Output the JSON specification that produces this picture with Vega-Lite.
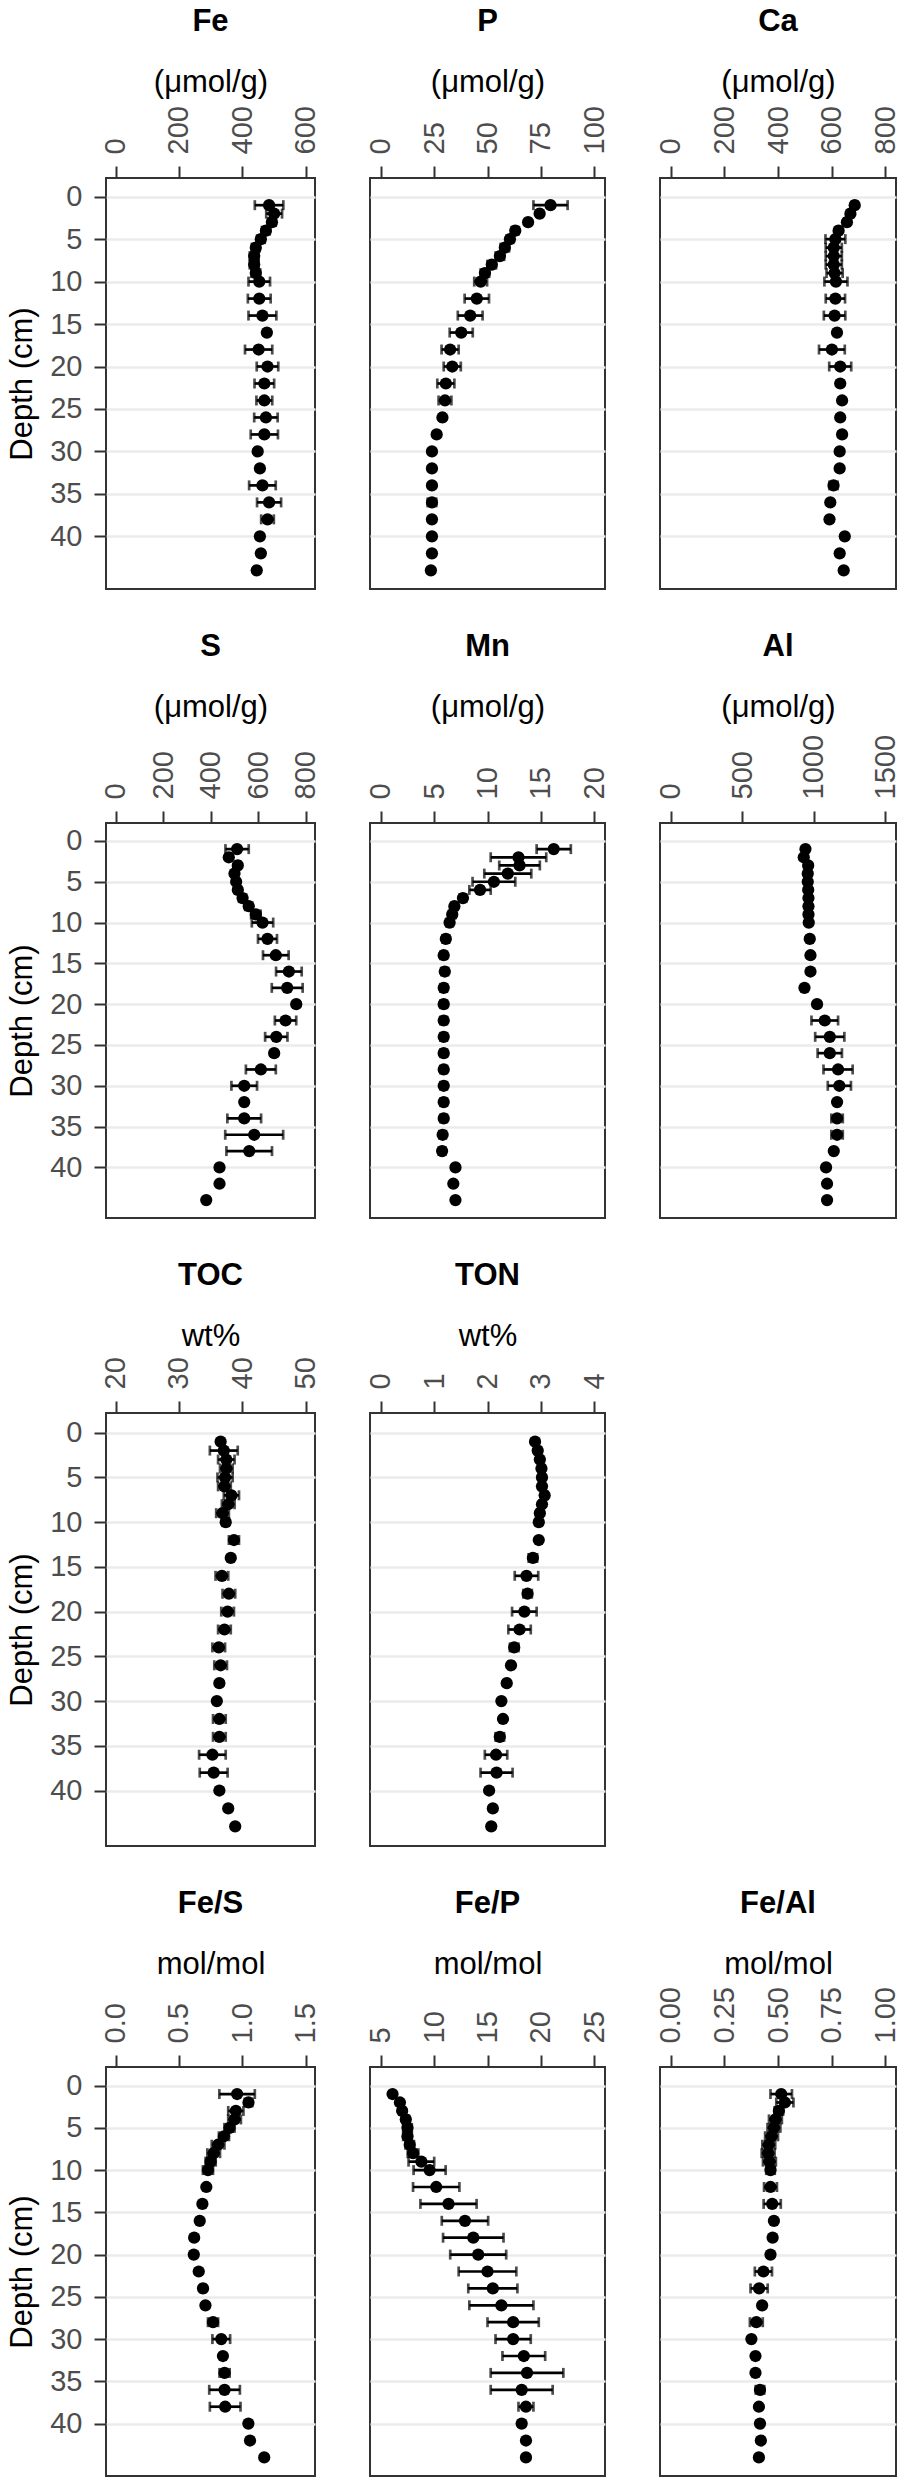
{
  "$schema": "https://vega.github.io/schema/vega-lite/v6.json",
  "background": "white",
  "padding": 5,
  "data": {
    "values": [
      {"p": "Fe", "d": 1, "v": 485, "e": 45}, {"p": "Fe", "d": 2, "v": 501, "e": 25}, {"p": "Fe", "d": 3, "v": 494, "e": 12},
      {"p": "Fe", "d": 4, "v": 475, "e": 12}, {"p": "Fe", "d": 5, "v": 459, "e": 12}, {"p": "Fe", "d": 6, "v": 443, "e": 12},
      {"p": "Fe", "d": 7, "v": 438, "e": 14}, {"p": "Fe", "d": 8, "v": 438, "e": 14}, {"p": "Fe", "d": 9, "v": 443, "e": 14},
      {"p": "Fe", "d": 10, "v": 454, "e": 34}, {"p": "Fe", "d": 12, "v": 454, "e": 36}, {"p": "Fe", "d": 14, "v": 464, "e": 44},
      {"p": "Fe", "d": 16, "v": 478, "e": 0}, {"p": "Fe", "d": 18, "v": 452, "e": 43}, {"p": "Fe", "d": 20, "v": 480, "e": 34},
      {"p": "Fe", "d": 22, "v": 470, "e": 31}, {"p": "Fe", "d": 24, "v": 470, "e": 25}, {"p": "Fe", "d": 26, "v": 475, "e": 37},
      {"p": "Fe", "d": 28, "v": 470, "e": 43}, {"p": "Fe", "d": 30, "v": 449, "e": 0}, {"p": "Fe", "d": 32, "v": 456, "e": 0},
      {"p": "Fe", "d": 34, "v": 464, "e": 42}, {"p": "Fe", "d": 36, "v": 485, "e": 38}, {"p": "Fe", "d": 38, "v": 480, "e": 20},
      {"p": "Fe", "d": 40, "v": 456, "e": 0}, {"p": "Fe", "d": 42, "v": 459, "e": 0}, {"p": "Fe", "d": 44, "v": 446, "e": 0},

      {"p": "P", "d": 1, "v": 79.5, "e": 8}, {"p": "P", "d": 2, "v": 74.4, "e": 1}, {"p": "P", "d": 3, "v": 69, "e": 1},
      {"p": "P", "d": 4, "v": 63, "e": 1.5}, {"p": "P", "d": 5, "v": 60.5, "e": 1.5}, {"p": "P", "d": 6, "v": 58.1, "e": 2},
      {"p": "P", "d": 7, "v": 55.8, "e": 2}, {"p": "P", "d": 8, "v": 52, "e": 2}, {"p": "P", "d": 9, "v": 48.8, "e": 2},
      {"p": "P", "d": 10, "v": 46.8, "e": 3}, {"p": "P", "d": 12, "v": 45, "e": 5.7}, {"p": "P", "d": 14, "v": 41.9, "e": 5.8},
      {"p": "P", "d": 16, "v": 37.7, "e": 5.4}, {"p": "P", "d": 18, "v": 32.5, "e": 4}, {"p": "P", "d": 20, "v": 33.5, "e": 4},
      {"p": "P", "d": 22, "v": 30.5, "e": 4}, {"p": "P", "d": 24, "v": 30.1, "e": 3}, {"p": "P", "d": 26, "v": 28.9, "e": 1},
      {"p": "P", "d": 28, "v": 26.2, "e": 0}, {"p": "P", "d": 30, "v": 24, "e": 0}, {"p": "P", "d": 32, "v": 24, "e": 0},
      {"p": "P", "d": 34, "v": 24, "e": 0}, {"p": "P", "d": 36, "v": 24, "e": 2}, {"p": "P", "d": 38, "v": 24, "e": 0},
      {"p": "P", "d": 40, "v": 24, "e": 0}, {"p": "P", "d": 42, "v": 24, "e": 0}, {"p": "P", "d": 44, "v": 23.5, "e": 0},

      {"p": "Ca", "d": 1, "v": 686, "e": 10}, {"p": "Ca", "d": 2, "v": 670, "e": 10}, {"p": "Ca", "d": 3, "v": 657, "e": 10},
      {"p": "Ca", "d": 4, "v": 626, "e": 10}, {"p": "Ca", "d": 5, "v": 614, "e": 37}, {"p": "Ca", "d": 6, "v": 608, "e": 30},
      {"p": "Ca", "d": 7, "v": 608, "e": 30}, {"p": "Ca", "d": 8, "v": 608, "e": 30}, {"p": "Ca", "d": 9, "v": 611, "e": 30},
      {"p": "Ca", "d": 10, "v": 616, "e": 43}, {"p": "Ca", "d": 12, "v": 614, "e": 36}, {"p": "Ca", "d": 14, "v": 611, "e": 40},
      {"p": "Ca", "d": 16, "v": 620, "e": 0}, {"p": "Ca", "d": 18, "v": 601, "e": 48}, {"p": "Ca", "d": 20, "v": 632, "e": 41},
      {"p": "Ca", "d": 22, "v": 632, "e": 0}, {"p": "Ca", "d": 24, "v": 639, "e": 0}, {"p": "Ca", "d": 26, "v": 632, "e": 0},
      {"p": "Ca", "d": 28, "v": 639, "e": 0}, {"p": "Ca", "d": 30, "v": 630, "e": 0}, {"p": "Ca", "d": 32, "v": 630, "e": 0},
      {"p": "Ca", "d": 34, "v": 607, "e": 15}, {"p": "Ca", "d": 36, "v": 595, "e": 0}, {"p": "Ca", "d": 38, "v": 592, "e": 0},
      {"p": "Ca", "d": 40, "v": 649, "e": 0}, {"p": "Ca", "d": 42, "v": 630, "e": 0}, {"p": "Ca", "d": 44, "v": 645, "e": 0},

      {"p": "S", "d": 1, "v": 512, "e": 49}, {"p": "S", "d": 2, "v": 477, "e": 10}, {"p": "S", "d": 3, "v": 515, "e": 10},
      {"p": "S", "d": 4, "v": 501, "e": 10}, {"p": "S", "d": 5, "v": 508, "e": 10}, {"p": "S", "d": 6, "v": 515, "e": 10},
      {"p": "S", "d": 7, "v": 535, "e": 15}, {"p": "S", "d": 8, "v": 561, "e": 15}, {"p": "S", "d": 9, "v": 591, "e": 20},
      {"p": "S", "d": 10, "v": 619, "e": 45}, {"p": "S", "d": 12, "v": 640, "e": 40}, {"p": "S", "d": 14, "v": 675, "e": 54},
      {"p": "S", "d": 16, "v": 730, "e": 54}, {"p": "S", "d": 18, "v": 723, "e": 65}, {"p": "S", "d": 20, "v": 761, "e": 0},
      {"p": "S", "d": 22, "v": 716, "e": 45}, {"p": "S", "d": 24, "v": 677, "e": 47}, {"p": "S", "d": 26, "v": 668, "e": 0},
      {"p": "S", "d": 28, "v": 612, "e": 63}, {"p": "S", "d": 30, "v": 542, "e": 54}, {"p": "S", "d": 32, "v": 542, "e": 0},
      {"p": "S", "d": 34, "v": 542, "e": 71}, {"p": "S", "d": 36, "v": 584, "e": 122}, {"p": "S", "d": 38, "v": 563, "e": 96},
      {"p": "S", "d": 40, "v": 438, "e": 0}, {"p": "S", "d": 42, "v": 438, "e": 0}, {"p": "S", "d": 44, "v": 382, "e": 0},

      {"p": "Mn", "d": 1, "v": 16.2, "e": 1.6}, {"p": "Mn", "d": 2, "v": 12.9, "e": 2.6}, {"p": "Mn", "d": 3, "v": 13.0, "e": 1.9},
      {"p": "Mn", "d": 4, "v": 11.9, "e": 2.2}, {"p": "Mn", "d": 5, "v": 10.6, "e": 2.0}, {"p": "Mn", "d": 6, "v": 9.3, "e": 1.0},
      {"p": "Mn", "d": 7, "v": 7.7, "e": 0.3}, {"p": "Mn", "d": 8, "v": 6.9, "e": 0.3}, {"p": "Mn", "d": 9, "v": 6.7, "e": 0.3},
      {"p": "Mn", "d": 10, "v": 6.45, "e": 0.3}, {"p": "Mn", "d": 12, "v": 6.1, "e": 0.3}, {"p": "Mn", "d": 14, "v": 5.9, "e": 0.3},
      {"p": "Mn", "d": 16, "v": 6.0, "e": 0.3}, {"p": "Mn", "d": 18, "v": 5.9, "e": 0.3}, {"p": "Mn", "d": 20, "v": 5.9, "e": 0.3},
      {"p": "Mn", "d": 22, "v": 5.9, "e": 0.3}, {"p": "Mn", "d": 24, "v": 5.9, "e": 0.3}, {"p": "Mn", "d": 26, "v": 5.9, "e": 0.3},
      {"p": "Mn", "d": 28, "v": 5.9, "e": 0.3}, {"p": "Mn", "d": 30, "v": 5.9, "e": 0.3}, {"p": "Mn", "d": 32, "v": 5.9, "e": 0.3},
      {"p": "Mn", "d": 34, "v": 5.9, "e": 0.3}, {"p": "Mn", "d": 36, "v": 5.8, "e": 0.3}, {"p": "Mn", "d": 38, "v": 5.75, "e": 0.3},
      {"p": "Mn", "d": 40, "v": 7.0, "e": 0}, {"p": "Mn", "d": 42, "v": 6.8, "e": 0}, {"p": "Mn", "d": 44, "v": 7.0, "e": 0},

      {"p": "Al", "d": 1, "v": 942, "e": 0}, {"p": "Al", "d": 2, "v": 930, "e": 0}, {"p": "Al", "d": 3, "v": 961, "e": 0},
      {"p": "Al", "d": 4, "v": 958, "e": 0}, {"p": "Al", "d": 5, "v": 958, "e": 0}, {"p": "Al", "d": 6, "v": 961, "e": 0},
      {"p": "Al", "d": 7, "v": 963, "e": 0}, {"p": "Al", "d": 8, "v": 963, "e": 0}, {"p": "Al", "d": 9, "v": 963, "e": 0},
      {"p": "Al", "d": 10, "v": 965, "e": 0}, {"p": "Al", "d": 12, "v": 972, "e": 0}, {"p": "Al", "d": 14, "v": 977, "e": 0},
      {"p": "Al", "d": 16, "v": 977, "e": 0}, {"p": "Al", "d": 18, "v": 935, "e": 0}, {"p": "Al", "d": 20, "v": 1023, "e": 0},
      {"p": "Al", "d": 22, "v": 1077, "e": 93}, {"p": "Al", "d": 24, "v": 1112, "e": 102}, {"p": "Al", "d": 26, "v": 1112, "e": 85},
      {"p": "Al", "d": 28, "v": 1170, "e": 102}, {"p": "Al", "d": 30, "v": 1179, "e": 81}, {"p": "Al", "d": 32, "v": 1163, "e": 0},
      {"p": "Al", "d": 34, "v": 1163, "e": 40}, {"p": "Al", "d": 36, "v": 1163, "e": 40}, {"p": "Al", "d": 38, "v": 1140, "e": 0},
      {"p": "Al", "d": 40, "v": 1086, "e": 0}, {"p": "Al", "d": 42, "v": 1093, "e": 0}, {"p": "Al", "d": 44, "v": 1093, "e": 0},

      {"p": "TOC", "d": 1, "v": 36.6, "e": 0}, {"p": "TOC", "d": 2, "v": 37.1, "e": 2.2}, {"p": "TOC", "d": 3, "v": 37.5, "e": 1.3},
      {"p": "TOC", "d": 4, "v": 37.5, "e": 1}, {"p": "TOC", "d": 5, "v": 37.3, "e": 1.2}, {"p": "TOC", "d": 6, "v": 37.2, "e": 1},
      {"p": "TOC", "d": 7, "v": 38.3, "e": 1.2}, {"p": "TOC", "d": 8, "v": 37.8, "e": 1}, {"p": "TOC", "d": 9, "v": 36.9, "e": 1},
      {"p": "TOC", "d": 10, "v": 37.4, "e": 0.5}, {"p": "TOC", "d": 12, "v": 38.7, "e": 0.8}, {"p": "TOC", "d": 14, "v": 38.2, "e": 0},
      {"p": "TOC", "d": 16, "v": 36.8, "e": 1}, {"p": "TOC", "d": 18, "v": 37.9, "e": 1}, {"p": "TOC", "d": 20, "v": 37.7, "e": 1},
      {"p": "TOC", "d": 22, "v": 37.2, "e": 1}, {"p": "TOC", "d": 24, "v": 36.3, "e": 1}, {"p": "TOC", "d": 26, "v": 36.6, "e": 1},
      {"p": "TOC", "d": 28, "v": 36.4, "e": 0}, {"p": "TOC", "d": 30, "v": 36.0, "e": 0}, {"p": "TOC", "d": 32, "v": 36.4, "e": 1},
      {"p": "TOC", "d": 34, "v": 36.4, "e": 1}, {"p": "TOC", "d": 36, "v": 35.3, "e": 2.1}, {"p": "TOC", "d": 38, "v": 35.5, "e": 2.2},
      {"p": "TOC", "d": 40, "v": 36.4, "e": 0}, {"p": "TOC", "d": 42, "v": 37.8, "e": 0}, {"p": "TOC", "d": 44, "v": 38.9, "e": 0},

      {"p": "TON", "d": 1, "v": 2.89, "e": 0}, {"p": "TON", "d": 2, "v": 2.94, "e": 0.05}, {"p": "TON", "d": 3, "v": 2.98, "e": 0.05},
      {"p": "TON", "d": 4, "v": 3.01, "e": 0.05}, {"p": "TON", "d": 5, "v": 3.02, "e": 0.05}, {"p": "TON", "d": 6, "v": 3.02, "e": 0.05},
      {"p": "TON", "d": 7, "v": 3.07, "e": 0.05}, {"p": "TON", "d": 8, "v": 3.02, "e": 0.05}, {"p": "TON", "d": 9, "v": 2.98, "e": 0.05},
      {"p": "TON", "d": 10, "v": 2.96, "e": 0.05}, {"p": "TON", "d": 12, "v": 2.96, "e": 0}, {"p": "TON", "d": 14, "v": 2.85, "e": 0.08},
      {"p": "TON", "d": 16, "v": 2.73, "e": 0.22}, {"p": "TON", "d": 18, "v": 2.75, "e": 0.08}, {"p": "TON", "d": 20, "v": 2.69, "e": 0.23},
      {"p": "TON", "d": 22, "v": 2.6, "e": 0.21}, {"p": "TON", "d": 24, "v": 2.5, "e": 0.08}, {"p": "TON", "d": 26, "v": 2.44, "e": 0.05},
      {"p": "TON", "d": 28, "v": 2.36, "e": 0}, {"p": "TON", "d": 30, "v": 2.26, "e": 0}, {"p": "TON", "d": 32, "v": 2.29, "e": 0},
      {"p": "TON", "d": 34, "v": 2.23, "e": 0.08}, {"p": "TON", "d": 36, "v": 2.16, "e": 0.21}, {"p": "TON", "d": 38, "v": 2.17, "e": 0.3},
      {"p": "TON", "d": 40, "v": 2.03, "e": 0}, {"p": "TON", "d": 42, "v": 2.1, "e": 0}, {"p": "TON", "d": 44, "v": 2.07, "e": 0},

      {"p": "Fe/S", "d": 1, "v": 0.96, "e": 0.14}, {"p": "Fe/S", "d": 2, "v": 1.05, "e": 0.03}, {"p": "Fe/S", "d": 3, "v": 0.95, "e": 0.06},
      {"p": "Fe/S", "d": 4, "v": 0.94, "e": 0.05}, {"p": "Fe/S", "d": 5, "v": 0.9, "e": 0.04}, {"p": "Fe/S", "d": 6, "v": 0.856, "e": 0.04},
      {"p": "Fe/S", "d": 7, "v": 0.81, "e": 0.05}, {"p": "Fe/S", "d": 8, "v": 0.775, "e": 0.05}, {"p": "Fe/S", "d": 9, "v": 0.751, "e": 0.04},
      {"p": "Fe/S", "d": 10, "v": 0.73, "e": 0.04}, {"p": "Fe/S", "d": 12, "v": 0.717, "e": 0}, {"p": "Fe/S", "d": 14, "v": 0.686, "e": 0},
      {"p": "Fe/S", "d": 16, "v": 0.665, "e": 0}, {"p": "Fe/S", "d": 18, "v": 0.621, "e": 0}, {"p": "Fe/S", "d": 20, "v": 0.618, "e": 0},
      {"p": "Fe/S", "d": 22, "v": 0.657, "e": 0}, {"p": "Fe/S", "d": 24, "v": 0.691, "e": 0.02}, {"p": "Fe/S", "d": 26, "v": 0.71, "e": 0},
      {"p": "Fe/S", "d": 28, "v": 0.77, "e": 0.04}, {"p": "Fe/S", "d": 30, "v": 0.835, "e": 0.07}, {"p": "Fe/S", "d": 32, "v": 0.848, "e": 0},
      {"p": "Fe/S", "d": 34, "v": 0.861, "e": 0.04}, {"p": "Fe/S", "d": 36, "v": 0.861, "e": 0.121}, {"p": "Fe/S", "d": 38, "v": 0.866, "e": 0.121},
      {"p": "Fe/S", "d": 40, "v": 1.049, "e": 0}, {"p": "Fe/S", "d": 42, "v": 1.062, "e": 0}, {"p": "Fe/S", "d": 44, "v": 1.174, "e": 0},

      {"p": "Fe/P", "d": 1, "v": 6.11, "e": 0}, {"p": "Fe/P", "d": 2, "v": 6.8, "e": 0}, {"p": "Fe/P", "d": 3, "v": 7.01, "e": 0.2},
      {"p": "Fe/P", "d": 4, "v": 7.35, "e": 0.3}, {"p": "Fe/P", "d": 5, "v": 7.51, "e": 0.4}, {"p": "Fe/P", "d": 6, "v": 7.51, "e": 0.4},
      {"p": "Fe/P", "d": 7, "v": 7.72, "e": 0.4}, {"p": "Fe/P", "d": 8, "v": 8.03, "e": 0.5}, {"p": "Fe/P", "d": 9, "v": 8.81, "e": 1.2},
      {"p": "Fe/P", "d": 10, "v": 9.58, "e": 1.5}, {"p": "Fe/P", "d": 12, "v": 10.2, "e": 2.17}, {"p": "Fe/P", "d": 14, "v": 11.35, "e": 2.63},
      {"p": "Fe/P", "d": 16, "v": 12.89, "e": 2.17}, {"p": "Fe/P", "d": 18, "v": 13.67, "e": 2.83}, {"p": "Fe/P", "d": 20, "v": 14.13, "e": 2.62},
      {"p": "Fe/P", "d": 22, "v": 15.0, "e": 2.7}, {"p": "Fe/P", "d": 24, "v": 15.5, "e": 2.3}, {"p": "Fe/P", "d": 26, "v": 16.3, "e": 3.0},
      {"p": "Fe/P", "d": 28, "v": 17.4, "e": 2.4}, {"p": "Fe/P", "d": 30, "v": 17.4, "e": 1.65}, {"p": "Fe/P", "d": 32, "v": 18.4, "e": 2.0},
      {"p": "Fe/P", "d": 34, "v": 18.7, "e": 3.4}, {"p": "Fe/P", "d": 36, "v": 18.2, "e": 2.9}, {"p": "Fe/P", "d": 38, "v": 18.6, "e": 0.7},
      {"p": "Fe/P", "d": 40, "v": 18.2, "e": 0}, {"p": "Fe/P", "d": 42, "v": 18.6, "e": 0}, {"p": "Fe/P", "d": 44, "v": 18.6, "e": 0},

      {"p": "Fe/Al", "d": 1, "v": 0.515, "e": 0.05}, {"p": "Fe/Al", "d": 2, "v": 0.532, "e": 0.04}, {"p": "Fe/Al", "d": 3, "v": 0.504, "e": 0.02},
      {"p": "Fe/Al", "d": 4, "v": 0.488, "e": 0.03}, {"p": "Fe/Al", "d": 5, "v": 0.481, "e": 0.03}, {"p": "Fe/Al", "d": 6, "v": 0.47, "e": 0.03},
      {"p": "Fe/Al", "d": 7, "v": 0.457, "e": 0.03}, {"p": "Fe/Al", "d": 8, "v": 0.454, "e": 0.03}, {"p": "Fe/Al", "d": 9, "v": 0.46, "e": 0.03},
      {"p": "Fe/Al", "d": 10, "v": 0.465, "e": 0.02}, {"p": "Fe/Al", "d": 12, "v": 0.465, "e": 0.03}, {"p": "Fe/Al", "d": 14, "v": 0.473, "e": 0.04},
      {"p": "Fe/Al", "d": 16, "v": 0.481, "e": 0}, {"p": "Fe/Al", "d": 18, "v": 0.475, "e": 0}, {"p": "Fe/Al", "d": 20, "v": 0.465, "e": 0},
      {"p": "Fe/Al", "d": 22, "v": 0.432, "e": 0.04}, {"p": "Fe/Al", "d": 24, "v": 0.412, "e": 0.04}, {"p": "Fe/Al", "d": 26, "v": 0.426, "e": 0},
      {"p": "Fe/Al", "d": 28, "v": 0.399, "e": 0.03}, {"p": "Fe/Al", "d": 30, "v": 0.376, "e": 0}, {"p": "Fe/Al", "d": 32, "v": 0.395, "e": 0},
      {"p": "Fe/Al", "d": 34, "v": 0.395, "e": 0}, {"p": "Fe/Al", "d": 36, "v": 0.416, "e": 0.02}, {"p": "Fe/Al", "d": 38, "v": 0.411, "e": 0},
      {"p": "Fe/Al", "d": 40, "v": 0.416, "e": 0}, {"p": "Fe/Al", "d": 42, "v": 0.42, "e": 0}, {"p": "Fe/Al", "d": 44, "v": 0.411, "e": 0}
    ]
  },
  "spacing": 40,
  "bounds": "full",
  "vconcat": [
    {
      "hconcat": [
        {
          "width": 209, "height": 411,
          "title": "Fe",
          "transform": [{"filter": "datum.p == 'Fe'"}],
          "encoding": {
            "y": {"field": "d", "type": "quantitative", "scale": {"domain": [-2.2, 46.2], "reverse": true, "nice": false, "zero": false},
                  "axis": {"values": [0, 5, 10, 15, 20, 25, 30, 35, 40], "title": "Depth (cm)", "titleX": -84}},
            "x": {"field": "v", "type": "quantitative", "scale": {"domain": [-30, 630], "nice": false, "zero": false},
                  "axis": {"orient": "top", "values": [0, 200, 400, 600], "format": "d", "title": "(μmol/g)", "titleY": -96}}
          },
          "layer": [
            {"mark": {"type": "errorbar", "ticks": true, "size": 10, "thickness": 2.7, "color": "black"}, "encoding": {"xError": {"field": "e"}}},
            {"mark": {"type": "circle", "size": 150, "color": "black", "opacity": 1}}
          ]
        },
        {
          "width": 235, "height": 411,
          "title": "P",
          "transform": [{"filter": "datum.p == 'P'"}],
          "encoding": {
            "y": {"field": "d", "type": "quantitative", "scale": {"domain": [-2.2, 46.2], "reverse": true, "nice": false, "zero": false},
                  "axis": {"values": [0, 5, 10, 15, 20, 25, 30, 35, 40], "labels": false, "ticks": false, "title": null}},
            "x": {"field": "v", "type": "quantitative", "scale": {"domain": [-5, 105], "nice": false, "zero": false},
                  "axis": {"orient": "top", "values": [0, 25, 50, 75, 100], "format": "d", "title": "(μmol/g)", "titleY": -96}}
          },
          "layer": [
            {"mark": {"type": "errorbar", "ticks": true, "size": 10, "thickness": 2.7, "color": "black"}, "encoding": {"xError": {"field": "e"}}},
            {"mark": {"type": "circle", "size": 150, "color": "black", "opacity": 1}}
          ]
        },
        {
          "width": 236, "height": 411,
          "title": "Ca",
          "transform": [{"filter": "datum.p == 'Ca'"}],
          "encoding": {
            "y": {"field": "d", "type": "quantitative", "scale": {"domain": [-2.2, 46.2], "reverse": true, "nice": false, "zero": false},
                  "axis": {"values": [0, 5, 10, 15, 20, 25, 30, 35, 40], "labels": false, "ticks": false, "title": null}},
            "x": {"field": "v", "type": "quantitative", "scale": {"domain": [-40, 840], "nice": false, "zero": false},
                  "axis": {"orient": "top", "values": [0, 200, 400, 600, 800], "format": "d", "title": "(μmol/g)", "titleY": -96}}
          },
          "layer": [
            {"mark": {"type": "errorbar", "ticks": true, "size": 10, "thickness": 2.7, "color": "black"}, "encoding": {"xError": {"field": "e"}}},
            {"mark": {"type": "circle", "size": 150, "color": "black", "opacity": 1}}
          ]
        }
      ],
      "spacing": 55,
      "bounds": "flush"
    },
    {
      "hconcat": [
        {
          "width": 209, "height": 395,
          "title": "S",
          "transform": [{"filter": "datum.p == 'S'"}],
          "encoding": {
            "y": {"field": "d", "type": "quantitative", "scale": {"domain": [-2.2, 46.2], "reverse": true, "nice": false, "zero": false},
                  "axis": {"values": [0, 5, 10, 15, 20, 25, 30, 35, 40], "title": "Depth (cm)", "titleX": -84}},
            "x": {"field": "v", "type": "quantitative", "scale": {"domain": [-40, 840], "nice": false, "zero": false},
                  "axis": {"orient": "top", "values": [0, 200, 400, 600, 800], "format": "d", "title": "(μmol/g)", "titleY": -116}}
          },
          "layer": [
            {"mark": {"type": "errorbar", "ticks": true, "size": 10, "thickness": 2.7, "color": "black"}, "encoding": {"xError": {"field": "e"}}},
            {"mark": {"type": "circle", "size": 150, "color": "black", "opacity": 1}}
          ]
        },
        {
          "width": 235, "height": 395,
          "title": "Mn",
          "transform": [{"filter": "datum.p == 'Mn'"}],
          "encoding": {
            "y": {"field": "d", "type": "quantitative", "scale": {"domain": [-2.2, 46.2], "reverse": true, "nice": false, "zero": false},
                  "axis": {"values": [0, 5, 10, 15, 20, 25, 30, 35, 40], "labels": false, "ticks": false, "title": null}},
            "x": {"field": "v", "type": "quantitative", "scale": {"domain": [-1, 21], "nice": false, "zero": false},
                  "axis": {"orient": "top", "values": [0, 5, 10, 15, 20], "format": "d", "title": "(μmol/g)", "titleY": -116}}
          },
          "layer": [
            {"mark": {"type": "errorbar", "ticks": true, "size": 10, "thickness": 2.7, "color": "black"}, "encoding": {"xError": {"field": "e"}}},
            {"mark": {"type": "circle", "size": 150, "color": "black", "opacity": 1}}
          ]
        },
        {
          "width": 236, "height": 395,
          "title": "Al",
          "transform": [{"filter": "datum.p == 'Al'"}],
          "encoding": {
            "y": {"field": "d", "type": "quantitative", "scale": {"domain": [-2.2, 46.2], "reverse": true, "nice": false, "zero": false},
                  "axis": {"values": [0, 5, 10, 15, 20, 25, 30, 35, 40], "labels": false, "ticks": false, "title": null}},
            "x": {"field": "v", "type": "quantitative", "scale": {"domain": [-75, 1575], "nice": false, "zero": false},
                  "axis": {"orient": "top", "values": [0, 500, 1000, 1500], "format": "d", "title": "(μmol/g)", "titleY": -116}}
          },
          "layer": [
            {"mark": {"type": "errorbar", "ticks": true, "size": 10, "thickness": 2.7, "color": "black"}, "encoding": {"xError": {"field": "e"}}},
            {"mark": {"type": "circle", "size": 150, "color": "black", "opacity": 1}}
          ]
        }
      ],
      "spacing": 55,
      "bounds": "flush"
    },
    {
      "hconcat": [
        {
          "width": 209, "height": 433,
          "title": "TOC",
          "transform": [{"filter": "datum.p == 'TOC'"}],
          "encoding": {
            "y": {"field": "d", "type": "quantitative", "scale": {"domain": [-2.2, 46.2], "reverse": true, "nice": false, "zero": false},
                  "axis": {"values": [0, 5, 10, 15, 20, 25, 30, 35, 40], "title": "Depth (cm)", "titleX": -84}},
            "x": {"field": "v", "type": "quantitative", "scale": {"domain": [18.5, 51.5], "nice": false, "zero": false},
                  "axis": {"orient": "top", "values": [20, 30, 40, 50], "format": "d", "title": "wt%", "titleY": -77}}
          },
          "layer": [
            {"mark": {"type": "errorbar", "ticks": true, "size": 10, "thickness": 2.7, "color": "black"}, "encoding": {"xError": {"field": "e"}}},
            {"mark": {"type": "circle", "size": 150, "color": "black", "opacity": 1}}
          ]
        },
        {
          "width": 235, "height": 433,
          "title": "TON",
          "transform": [{"filter": "datum.p == 'TON'"}],
          "encoding": {
            "y": {"field": "d", "type": "quantitative", "scale": {"domain": [-2.2, 46.2], "reverse": true, "nice": false, "zero": false},
                  "axis": {"values": [0, 5, 10, 15, 20, 25, 30, 35, 40], "labels": false, "ticks": false, "title": null}},
            "x": {"field": "v", "type": "quantitative", "scale": {"domain": [-0.2, 4.2], "nice": false, "zero": false},
                  "axis": {"orient": "top", "values": [0, 1, 2, 3, 4], "format": "d", "title": "wt%", "titleY": -77}}
          },
          "layer": [
            {"mark": {"type": "errorbar", "ticks": true, "size": 10, "thickness": 2.7, "color": "black"}, "encoding": {"xError": {"field": "e"}}},
            {"mark": {"type": "circle", "size": 150, "color": "black", "opacity": 1}}
          ]
        }
      ],
      "spacing": 55,
      "bounds": "flush"
    },
    {
      "hconcat": [
        {
          "width": 209, "height": 409,
          "title": "Fe/S",
          "transform": [{"filter": "datum.p == 'Fe/S'"}],
          "encoding": {
            "y": {"field": "d", "type": "quantitative", "scale": {"domain": [-2.2, 46.2], "reverse": true, "nice": false, "zero": false},
                  "axis": {"values": [0, 5, 10, 15, 20, 25, 30, 35, 40], "title": "Depth (cm)", "titleX": -84}},
            "x": {"field": "v", "type": "quantitative", "scale": {"domain": [-0.075, 1.575], "nice": false, "zero": false},
                  "axis": {"orient": "top", "values": [0, 0.5, 1, 1.5], "format": ".1f", "title": "mol/mol", "titleY": -103}}
          },
          "layer": [
            {"mark": {"type": "errorbar", "ticks": true, "size": 10, "thickness": 2.7, "color": "black"}, "encoding": {"xError": {"field": "e"}}},
            {"mark": {"type": "circle", "size": 150, "color": "black", "opacity": 1}}
          ]
        },
        {
          "width": 235, "height": 409,
          "title": "Fe/P",
          "transform": [{"filter": "datum.p == 'Fe/P'"}],
          "encoding": {
            "y": {"field": "d", "type": "quantitative", "scale": {"domain": [-2.2, 46.2], "reverse": true, "nice": false, "zero": false},
                  "axis": {"values": [0, 5, 10, 15, 20, 25, 30, 35, 40], "labels": false, "ticks": false, "title": null}},
            "x": {"field": "v", "type": "quantitative", "scale": {"domain": [4, 26], "nice": false, "zero": false},
                  "axis": {"orient": "top", "values": [5, 10, 15, 20, 25], "format": "d", "title": "mol/mol", "titleY": -103}}
          },
          "layer": [
            {"mark": {"type": "errorbar", "ticks": true, "size": 10, "thickness": 2.7, "color": "black"}, "encoding": {"xError": {"field": "e"}}},
            {"mark": {"type": "circle", "size": 150, "color": "black", "opacity": 1}}
          ]
        },
        {
          "width": 236, "height": 409,
          "title": "Fe/Al",
          "transform": [{"filter": "datum.p == 'Fe/Al'"}],
          "encoding": {
            "y": {"field": "d", "type": "quantitative", "scale": {"domain": [-2.2, 46.2], "reverse": true, "nice": false, "zero": false},
                  "axis": {"values": [0, 5, 10, 15, 20, 25, 30, 35, 40], "labels": false, "ticks": false, "title": null}},
            "x": {"field": "v", "type": "quantitative", "scale": {"domain": [-0.05, 1.05], "nice": false, "zero": false},
                  "axis": {"orient": "top", "values": [0, 0.25, 0.5, 0.75, 1], "format": ".2f", "title": "mol/mol", "titleY": -103}}
          },
          "layer": [
            {"mark": {"type": "errorbar", "ticks": true, "size": 10, "thickness": 2.7, "color": "black"}, "encoding": {"xError": {"field": "e"}}},
            {"mark": {"type": "circle", "size": 150, "color": "black", "opacity": 1}}
          ]
        }
      ],
      "spacing": 55,
      "bounds": "flush"
    }
  ],
  "config": {
    "font": "Liberation Sans",
    "view": {"stroke": "#333333", "strokeWidth": 2},
    "axis": {
      "domain": false,
      "tickColor": "#333333", "tickWidth": 2, "tickSize": 12,
      "labelColor": "#4D4D4D", "labelFontSize": 29, "labelPadding": 12,
      "labelFlush": false, "labelOverlap": false,
      "titleFontSize": 31, "titleFontWeight": "normal", "titleColor": "#000000",
      "gridColor": "#EBEBEB", "gridWidth": 2.5
    },
    "axisX": {"grid": false, "labelAngle": 270, "labelAlign": "left", "labelBaseline": "middle", "titleBaseline": "middle"},
    "axisY": {"grid": true, "titleBaseline": "middle"},
    "title": {"fontSize": 31, "fontWeight": "bold", "color": "#000000", "anchor": "middle", "frame": "group", "offset": 28}
  }
}
